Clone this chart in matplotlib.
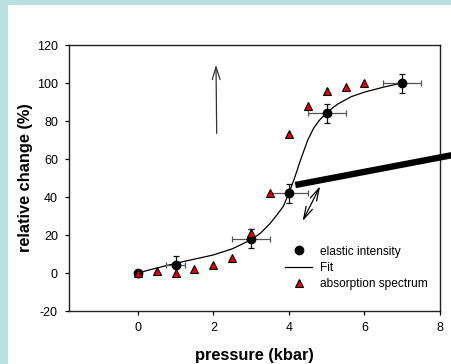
import matplotlib
matplotlib.use("Agg")
import matplotlib.pyplot as plt
from matplotlib.patches import Rectangle

plt.rcParams['font.family'] = ['Liberation Sans', 'DejaVu Sans']
plt.rcParams['axes.unicode_minus'] = False

# elastic intensity (with error bars)
el_x = [0, 1, 3, 4, 5, 7]
el_y = [0, 4, 18, 42, 84, 100]
el_xerr = [0, 0.25, 0.5, 0.5, 0.5, 0.5]
el_yerr = [0, 5, 5, 5, 5, 5]

# absorption spectrum
ab_x = [0, 0.5, 1, 1.5, 2, 2.5, 3, 3.5, 4, 4.5, 5, 5.5, 6]
ab_y = [0, 1, 0, 2, 4, 8, 21, 42, 73, 88, 96, 98, 100]

# fit curve
fit_x = [0, 0.5, 1, 1.5, 2, 2.5, 3, 3.25, 3.5, 3.7, 3.85, 4.0, 4.15, 4.3,
         4.5, 4.65, 4.8, 4.9, 5.0, 5.15, 5.3, 5.65, 6.0, 6.5, 7.0]
fit_y = [0, 2.6, 5.1, 7.3, 9.5, 12.7, 17.5, 21, 26, 31, 35, 42, 50, 59,
         70, 76, 80.2, 82.3, 84, 86.8, 89, 92.8, 95.2, 97.8, 100]

xticks = [0, 2, 4, 6, 8]
yticks = [-20, 0, 20, 40, 60, 80, 100, 120]

fig = plt.figure(figsize=(4.52, 3.64), dpi=100, facecolor='#b9dfe1')
fig.patches.append(Rectangle((8 / 452, 0), 1, 1 - 5 / 364, transform=fig.transFigure,
                             facecolor='white', edgecolor='none', zorder=-10))
ax = fig.add_axes([69 / 452, 53 / 364, 371 / 452, 266 / 364])

# horizontal bars grey, vertical bars black
ax.errorbar(el_x, el_y, xerr=el_xerr, fmt='none', ecolor='#555555',
            elinewidth=0.9, capsize=2.5, capthick=0.9, zorder=3)
ax.errorbar(el_x, el_y, yerr=el_yerr, fmt='none', ecolor='#111111',
            elinewidth=0.9, capsize=2.5, capthick=0.9, zorder=3)
ax.plot(fit_x, fit_y, color='black', lw=0.9, zorder=2, label='Fit')
ax.plot(el_x, el_y, 'o', color='black', ms=6, zorder=4, label='elastic intensity')
ax.errorbar([3], [21], yerr=[2], fmt='none', ecolor='#333333', elinewidth=0.8,
            capsize=2, zorder=3)
ax.plot(ab_x, ab_y, '^', mfc='#e00000', mec='black', mew=0.8, ms=5.5, zorder=5,
        label='absorption spectrum')

# arrows and the thick bar
ax.annotate('', xy=(2.07, 111), xytext=(2.09, 72),
            arrowprops=dict(arrowstyle='->,head_length=0.9,head_width=0.28',
                            color='#333333', lw=0.9))
ax.annotate('', xy=(4.33, 26), xytext=(4.86, 47),
            arrowprops=dict(arrowstyle='<->,head_length=0.9,head_width=0.25',
                            color='black', lw=0.9), zorder=6)
ax.plot([4.17, 8.6], [46.3, 63.1], color='black', lw=4.6, solid_capstyle='butt',
        clip_on=False, zorder=7)

ax.set_xlim(-1.82, 8)
ax.set_ylim(-20, 120)
ax.set_xticks(xticks)
ax.set_yticks(yticks)
ax.tick_params(direction='out', length=3, width=0.9, labelsize=9, pad=5)
for s in ax.spines.values():
    s.set_linewidth(1.0)
    s.set_color('#222222')

ax.set_xlabel('pressure (kbar)', fontsize=11.8, fontweight='bold', labelpad=10)
ax.set_ylabel('relative change (%)', fontsize=11.8, fontweight='bold', labelpad=2.5)

h, l = ax.get_legend_handles_labels()
order = [1, 0, 2]
ax.legend([h[i] for i in order], [l[i] for i in order], loc='upper left',
          bbox_to_anchor=(0.553, 0.286), frameon=False, fontsize=8.6,
          handlelength=2.3, handletextpad=0.6, labelspacing=0.35)

fig.savefig('out.png', dpi=100, facecolor=fig.get_facecolor())
